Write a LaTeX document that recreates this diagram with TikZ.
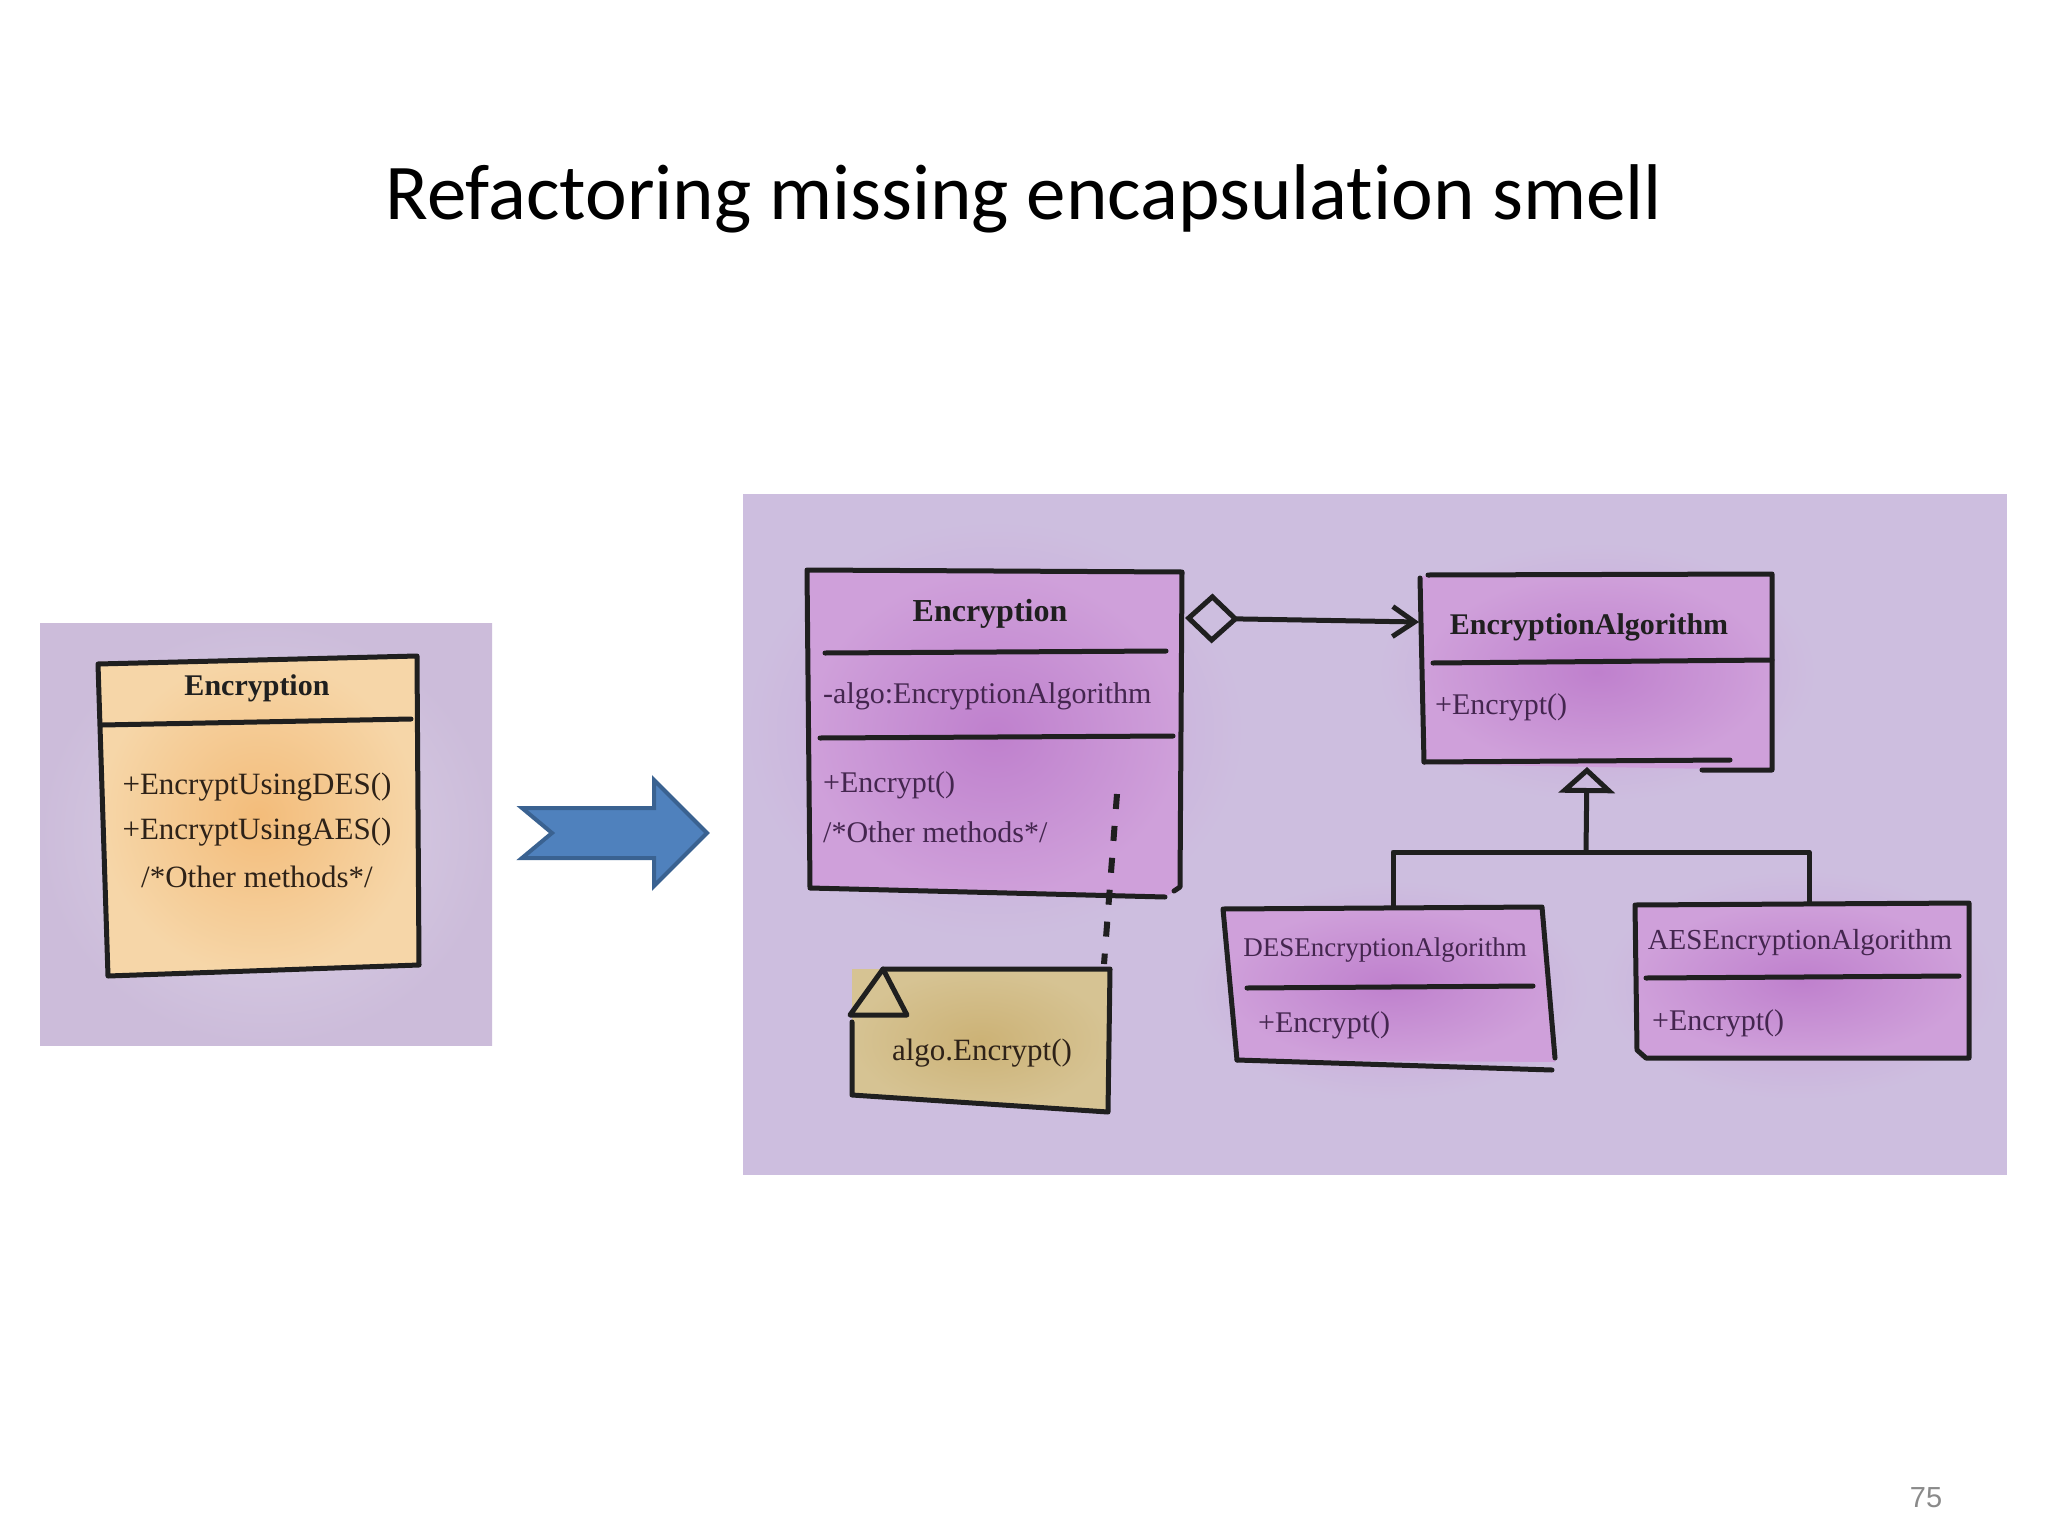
\documentclass[tikz,border=0pt]{standalone}
\usepackage{fontspec}
\setmainfont{Liberation Serif}
\newfontfamily\titlefont[Ligatures=NoCommon]{Carlito}
\newfontfamily\numfont{Liberation Sans}
\usetikzlibrary{arrows.meta,shapes.geometric}
\definecolor{lavL}{HTML}{CCBCDA}
\definecolor{lavR}{HTML}{CDBEDF}
\definecolor{lavLight}{HTML}{DDD4E8}
\definecolor{peachIn}{HTML}{F3BC7A}
\definecolor{peachOut}{HTML}{F6D6A8}
\definecolor{purpIn}{HTML}{BF80CD}
\definecolor{purpOut}{HTML}{CFA0DA}
\definecolor{purpHalo}{HTML}{C9A2D8}
\definecolor{tanIn}{HTML}{CCB276}
\definecolor{tanOut}{HTML}{D6C393}
\definecolor{arrowFill}{HTML}{4F81BD}
\definecolor{arrowEdge}{HTML}{3A6291}
\definecolor{inkPurple}{HTML}{44264F}
\definecolor{inkBrown}{HTML}{2E2218}
\definecolor{pageGray}{HTML}{8A8A8A}
\tikzset{
  sk/.style={line width=5pt, line join=round, line cap=round, draw=black!88},
  clsname/.style={font=\fontsize{31}{36}\selectfont\bfseries, text=black!88, inner sep=0pt},
  clsplain/.style={font=\fontsize{29}{34}\selectfont, text=inkPurple, inner sep=0pt},
  member/.style={font=\fontsize{30}{36}\selectfont, text=inkPurple, inner sep=0pt, anchor=west},
  oldmember/.style={font=\fontsize{31}{36}\selectfont, text=inkBrown, inner sep=0pt},
  halo/.style={inner color=purpHalo, outer color=lavR},
}
\begin{document}
\begin{tikzpicture}[x=1pt,y=-1pt]
\useasboundingbox (0,0) rectangle (2048,1536);
\fill[white] (0,0) rectangle (2048,1536);

% title
\node[anchor=base, inner sep=0pt, font=\titlefont\fontsize{79}{90}\selectfont] (title) at (1024,219) {Refactoring missing encapsulation smell};
% page number
\node[anchor=base, inner sep=0pt, text=pageGray, font=\numfont\fontsize{29}{34}\selectfont] (pagenum) at (1926,1507) {75};

% ---------- left panel ----------
\fill[lavL] (40,623) rectangle (492,1045);
\shade[inner color=lavLight, outer color=lavL] (40,623) rectangle (492,1045);
\shade[inner color=peachIn, outer color=peachOut] (100,662) -- (417,657) -- (418,963) -- (108,975) -- cycle;
\draw[sk] (98,664) -- (417,656) -- (419,965) -- (108,976) -- cycle;
\draw[sk] (102,725) -- (411,719);
\node[clsname, font=\fontsize{30}{36}\selectfont\bfseries] (oldname) at (257,688) {Encryption};
\node[oldmember] (oldm1) at (257,787) {+EncryptUsingDES()};
\node[oldmember] (oldm2) at (257,832) {+EncryptUsingAES()};
\node[oldmember] (oldm3) at (257,877) {/*Other methods*/};

% ---------- blue arrow ----------
\draw[fill=arrowFill, draw=arrowEdge, line width=4pt, line join=miter]
  (522,808) -- (654,808) -- (654,780) -- (707,833) -- (654,886) -- (654,858) -- (522,858) -- (552,833) -- cycle;

% ---------- right panel ----------
\fill[lavR] (743,494) rectangle (2007,1175);
% watercolour halos, kept inside the panel
\begin{scope}
\clip (743,494) rectangle (2007,1175);
\shade[halo] (995,730) ellipse [x radius=250, y radius=210];
\shade[halo] (1800,985) ellipse [x radius=200, y radius=115];
\shade[halo] (1390,990) ellipse [x radius=200, y radius=110];
\shade[halo] (1597,672) ellipse [x radius=220, y radius=130];
\end{scope}

% Encryption (new)
\shade[inner color=purpIn, outer color=purpOut] (807,571) -- (1182,571) -- (1180,888) -- (1165,897) -- (810,890) -- cycle;
\draw[sk] (1174,891) -- (1180,887) -- (1182,572) -- (807,570) -- (810,888) -- (1165,897);
\draw[sk] (825,653) -- (1166,651);
\draw[sk] (820,738) -- (1173,736);
\node[clsname, font=\fontsize{32}{36}\selectfont\bfseries] (encname) at (990,614) {Encryption};
\node[member] (encattr) at (823,696) {-algo:EncryptionAlgorithm};
\node[member] (encm1) at (823,785) {+Encrypt()};
\node[member] (encm2) at (823,832) {/*Other methods*/};

% EncryptionAlgorithm
\shade[inner color=purpIn, outer color=purpOut] (1422,576) -- (1772,574) -- (1772,770) -- (1424,764) -- cycle;
\draw[sk] (1424,762) -- (1420,578);
\draw[sk] (1428,575) -- (1772,574) -- (1772,770) -- (1702,770);
\draw[sk] (1424,762) -- (1730,760);
\draw[sk] (1433,663) -- (1772,660);
\node[clsname, font=\fontsize{30}{36}\selectfont\bfseries] (algname) at (1589,627) {EncryptionAlgorithm};
\node[member] (algm1) at (1435,707) {+Encrypt()};

% DESEncryptionAlgorithm
\shade[inner color=purpIn, outer color=purpOut] (1223,908) -- (1542,907) -- (1555,1062) -- (1237,1060) -- cycle;
\draw[sk] (1237,1060) -- (1223,909) -- (1542,907) -- (1555,1058);
\draw[sk] (1237,1060) -- (1552,1070);
\draw[sk] (1247,988) -- (1533,986);
\node[clsplain, font=\fontsize{27}{32}\selectfont] (desname) at (1385,950) {DESEncryptionAlgorithm};
\node[member] (desm1) at (1258,1025) {+Encrypt()};

% AESEncryptionAlgorithm
\shade[inner color=purpIn, outer color=purpOut] (1635,904) -- (1969,903) -- (1969,1058) -- (1640,1058) -- cycle;
\draw[sk] (1646,1058) -- (1637,1050) -- (1635,905) -- (1969,903) -- (1969,1058) -- cycle;
\draw[sk] (1646,978) -- (1959,976);
\node[clsplain] (aesname) at (1800,943) {AESEncryptionAlgorithm};
\node[member] (aesm1) at (1652,1023) {+Encrypt()};

% note
\shade[inner color=tanIn, outer color=tanOut] (852,969) -- (1110,969) -- (1108,1112) -- (852,1095) -- cycle;
\draw[sk] (850,1015) -- (883,969) -- (907,1015) -- cycle;
\draw[sk] (883,969) -- (1110,969) -- (1108,1112) -- (852,1095) -- (852,1022);
\node[font=\fontsize{31}{36}\selectfont, text=inkBrown, inner sep=0pt] (notetext) at (982,1053) {algo.Encrypt()};

% ---------- connectors ----------
\coordinate (aggS) at (1185,618);
\coordinate (aggE) at (1419,622);
\draw[sk, {Diamond[open, length=54pt, width=50pt, line join=miter]}-{Straight Barb[length=22pt, width=30pt]}] (aggS) -- (aggE);

\coordinate (dashS) at (1117,794);
\coordinate (dashE) at (1104,964);
\draw[sk, line cap=butt, line width=6pt, dash pattern=on 15pt off 17pt] (dashS) -- (dashE);

\coordinate (desTop) at (1393,907);
\coordinate (aesTop) at (1809,903);
\coordinate (barM) at (1586,852);
\coordinate (algBot) at (1587,767);
\draw[sk] (desTop) |- (barM) -| (aesTop);
\draw[sk, -{Triangle[open, length=26pt, width=56pt]}] (barM) -- (algBot);
\end{tikzpicture}
\end{document}
